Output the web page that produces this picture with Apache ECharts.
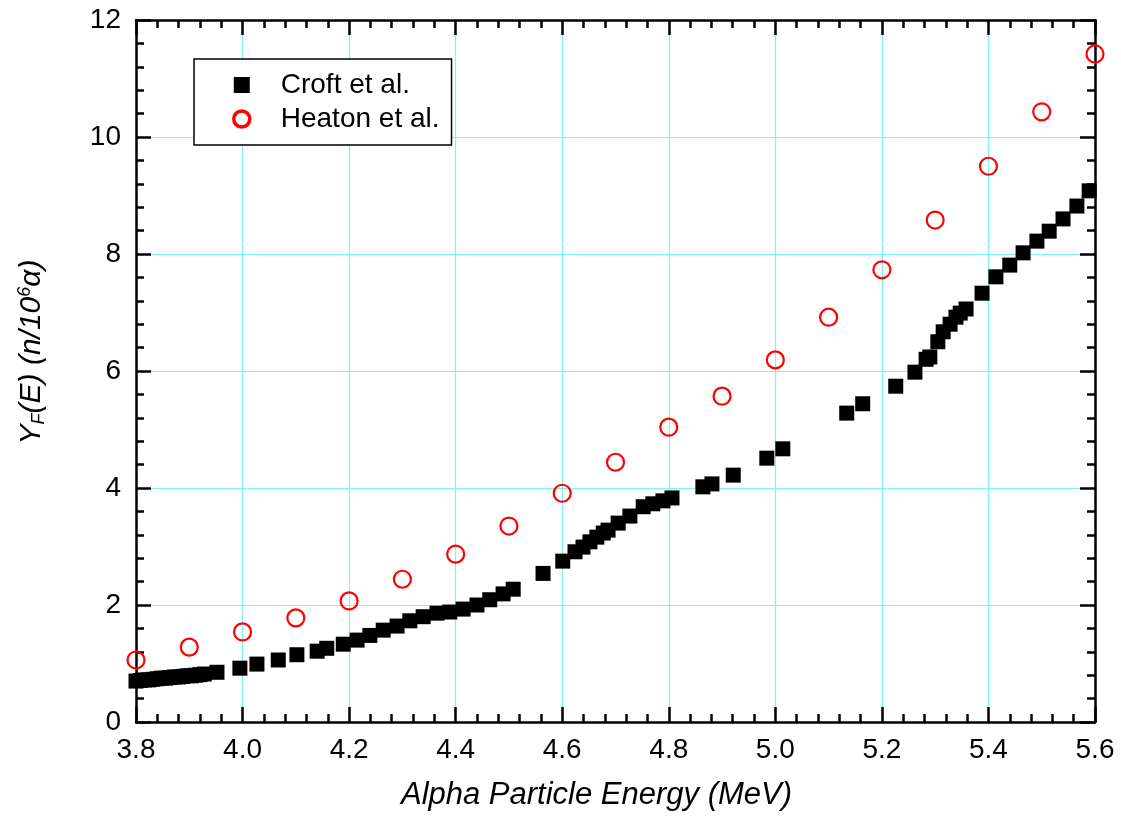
<!DOCTYPE html>
<html>
<head>
<meta charset="utf-8">
<script src="https://cdn.jsdelivr.net/npm/echarts@6/dist/echarts.min.js"></script>
<style>html,body{margin:0;padding:0;background:#fff}#c{width:1121px;height:823px}</style>
</head>
<body>
<div id="c"></div>
<script>
const croftE = [3.800,3.808,3.816,3.824,3.832,3.840,3.848,3.856,3.864,3.872,3.880,3.888,3.896,3.904,3.912,3.920,3.928,3.952,3.995,4.027,4.067,4.102,4.140,4.158,4.189,4.215,4.239,4.264,4.290,4.314,4.339,4.365,4.389,4.414,4.440,4.464,4.489,4.508,4.564,4.601,4.624,4.639,4.652,4.665,4.677,4.686,4.705,4.727,4.752,4.770,4.789,4.806,4.864,4.881,4.921,4.984,5.014,5.134,5.164,5.226,5.262,5.283,5.290,5.305,5.315,5.328,5.339,5.347,5.358,5.388,5.414,5.440,5.465,5.491,5.514,5.540,5.566,5.589];
const croftY = [0.70,0.71,0.72,0.72,0.73,0.74,0.75,0.75,0.76,0.77,0.77,0.78,0.79,0.79,0.80,0.81,0.82,0.85,0.92,0.99,1.06,1.15,1.21,1.26,1.33,1.40,1.48,1.57,1.64,1.73,1.80,1.86,1.88,1.93,2.00,2.09,2.19,2.27,2.54,2.75,2.91,2.99,3.08,3.16,3.23,3.28,3.40,3.52,3.68,3.73,3.78,3.83,4.02,4.07,4.22,4.51,4.67,5.28,5.44,5.74,5.98,6.20,6.24,6.50,6.67,6.80,6.92,6.99,7.06,7.33,7.61,7.81,8.02,8.22,8.39,8.60,8.82,9.08];
const heatonE = [3.8,3.9,4.0,4.1,4.2,4.3,4.4,4.5,4.6,4.7,4.8,4.9,5.0,5.1,5.2,5.3,5.4,5.5,5.6];
const heatonY = [1.06,1.28,1.54,1.78,2.07,2.44,2.87,3.35,3.91,4.44,5.04,5.57,6.19,6.92,7.73,8.58,9.50,10.43,11.42];
const seriesNames = ['Croft et al.', 'Heaton et al.'];
const xLabel = 'Alpha Particle Energy (MeV)';

const croftData = croftE.map((e, i) => [e, croftY[i]]);
const heatonData = heatonE.map((e, i) => [e, heatonY[i]]);

const FONT = 'Liberation Sans, Arial, sans-serif';
const axisLineStyle = { color: '#000', width: 2.5 };
const gridColor = '#80f4f4';

function xAxisBase(extra) {
  return Object.assign({
    type: 'value', min: 3.8, max: 5.6, interval: 0.2,
    axisLine: { show: true, onZero: false, lineStyle: axisLineStyle },
    axisTick: { show: true, inside: true, length: 15, lineStyle: { color: '#000', width: 2.5 } },
    minorTick: { show: true, splitNumber: 5, length: 8, lineStyle: { color: '#000', width: 2.5 } },
    splitLine: { show: false },
    minorSplitLine: { show: false }
  }, extra);
}
function yAxisBase(extra) {
  return Object.assign({
    type: 'value', min: 0, max: 12, interval: 2,
    axisLine: { show: true, onZero: false, lineStyle: axisLineStyle },
    axisTick: { show: true, inside: true, length: 15, lineStyle: { color: '#000', width: 2.5 } },
    minorTick: { show: true, splitNumber: 5, length: 8, lineStyle: { color: '#000', width: 2.5 } },
    splitLine: { show: false },
    minorSplitLine: { show: false }
  }, extra);
}

const chart = echarts.init(document.getElementById('c'), null, { renderer: 'canvas' });
chart.setOption({
  backgroundColor: '#fff',
  animation: false,
  grid: { left: 136, top: 20, right: 26, bottom: 101 },
  legend: {
    left: 194, top: 59, orient: 'vertical',
    backgroundColor: '#fff',
    borderColor: '#000', borderWidth: 1.5,
    padding: [12, 12, 12, 38],
    itemWidth: 16, itemHeight: 16, itemGap: 6,
    textStyle: { fontFamily: FONT, fontSize: 28, color: '#000', padding: [0, 0, 0, 26] },
    data: [
      { name: seriesNames[0], icon: 'rect', itemStyle: { color: '#000', opacity: 1 } },
      { name: seriesNames[1], icon: 'circle', itemStyle: { color: '#fff', borderColor: '#ff0000', borderWidth: 3.5, opacity: 1 } }
    ]
  },
  xAxis: [
    xAxisBase({
      position: 'bottom',
      axisLabel: { show: true, margin: 14, fontFamily: FONT, fontSize: 28, color: '#000', formatter: v => v.toFixed(1) },
      splitLine: { show: true, lineStyle: { color: gridColor, width: 1.2 } },
      name: xLabel, nameLocation: 'middle', nameGap: 58,
      nameTextStyle: { fontFamily: FONT, fontSize: 31, fontStyle: 'italic', color: '#000', padding: [0, 38, 0, 0] }
    }),
    xAxisBase({ position: 'top', axisLabel: { show: false } })
  ],
  yAxis: [
    yAxisBase({
      position: 'left',
      axisLabel: { show: true, margin: 15, fontFamily: FONT, fontSize: 28, color: '#000' },
      splitLine: { show: true, lineStyle: { color: gridColor, width: 1.2 } },
      name: '{i|Y}{sub|F}{i|(E) (n/10}{sup|6}{i|α)}',
      nameLocation: 'middle', nameGap: 84, nameRotate: 90,
      nameTextStyle: {
        padding: [0, 0, 0, 38],
        rich: {
          i: { fontFamily: FONT, fontSize: 30, fontStyle: 'italic', color: '#000', lineHeight: 40, verticalAlign: 'middle' },
          sub: { fontFamily: FONT, fontSize: 18, fontStyle: 'italic', color: '#000', lineHeight: 40, verticalAlign: 'bottom', padding: [0, 0, 4, 0] },
          sup: { fontFamily: FONT, fontSize: 18, fontStyle: 'italic', color: '#000', lineHeight: 40, verticalAlign: 'top', padding: [4, 0, 0, 0] }
        }
      }
    }),
    yAxisBase({ position: 'right', axisLabel: { show: false } })
  ],
  series: [
    {
      name: seriesNames[0], type: 'scatter', data: croftData,
      symbol: 'rect', symbolSize: 15,
      itemStyle: { color: '#000', opacity: 1 }, z: 3
    },
    {
      name: seriesNames[1], type: 'scatter', data: heatonData,
      symbol: 'circle', symbolSize: 17,
      itemStyle: { color: 'rgba(255,255,255,0)', borderColor: '#ff0000', borderWidth: 2.2, opacity: 1 }, z: 4
    }
  ]
});
</script>
</body>
</html>
